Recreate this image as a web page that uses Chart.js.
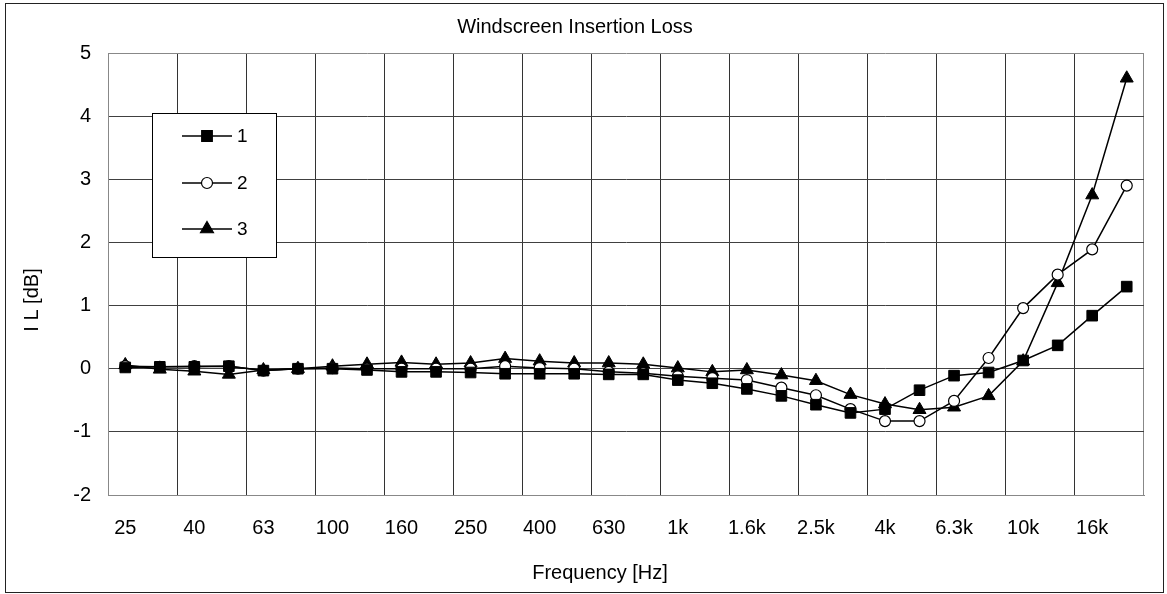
<!DOCTYPE html>
<html>
<head>
<meta charset="utf-8">
<script src="https://cdn.jsdelivr.net/npm/chart.js@4.4.1/dist/chart.umd.min.js"></script>
<style>
  html, body { margin: 0; padding: 0; background: #fff; }
  #wrap { position: relative; width: 1167px; height: 594px; }
</style>
</head>
<body>
<div id="wrap"><canvas id="ilChart" width="1167" height="594"></canvas></div>
<script>
// third-octave bands, 25 Hz .. 20 kHz
const bands = ['25', '31.5', '40', '50', '63', '80', '100', '125', '160', '200',
    '250', '315', '400', '500', '630', '800', '1k', '1.25k', '1.6k', '2k',
    '2.5k', '3.15k', '4k', '5k', '6.3k', '8k', '10k', '12.5k', '16k', '20k'];

const series1 = [0.02, 0.03, 0.03, 0.04, -0.03, 0.00, 0.00, -0.02, -0.05, -0.05,
    -0.06, -0.08, -0.08, -0.08, -0.09, -0.09, -0.18, -0.23, -0.32, -0.43,
    -0.57, -0.70, -0.64, -0.34, -0.11, -0.06, 0.13, 0.37, 0.84, 1.30];
const series2 = [0.04, 0.03, 0.04, 0.04, -0.03, 0.00, 0.01, 0.00, 0.00, 0.00,
    0.00, 0.04, 0.01, 0.00, -0.05, -0.07, -0.12, -0.15, -0.18, -0.30,
    -0.42, -0.64, -0.83, -0.83, -0.51, 0.17, 0.96, 1.49, 1.89, 2.90];
const series3 = [0.06, -0.01, -0.04, -0.09, -0.02, 0.00, 0.04, 0.07, 0.10, 0.07,
    0.09, 0.16, 0.12, 0.09, 0.09, 0.07, 0.01, -0.05, -0.02, -0.10,
    -0.19, -0.41, -0.56, -0.65, -0.61, -0.43, 0.12, 1.36, 2.75, 4.60];

const seriesNames = ['1', '2', '3'];
const yMin = -2, yMax = 5, yStep = 1;
const xTitle = 'Frequency [Hz]';
const yTitle = 'I L [dB]';

const FONT = 'Liberation Sans, Arial, sans-serif';

// legend box inside the plot + axis titles + outer frame
const boxLegend = {
    id: 'boxLegend',
    afterDatasetsDraw(chart) {
        const ctx = chart.ctx;
        ctx.save();
        ctx.fillStyle = '#fff';
        ctx.strokeStyle = '#000';
        ctx.lineWidth = 1;
        ctx.fillRect(152, 113, 124, 144);
        ctx.strokeRect(152.5, 113.5, 124, 144);
        const rows = [136, 183, 229];
        chart.data.datasets.forEach((ds, i) => {
            const y = rows[i];
            ctx.strokeStyle = '#000';
            ctx.lineWidth = 1.5;
            ctx.beginPath();
            ctx.moveTo(182, y);
            ctx.lineTo(232, y);
            ctx.stroke();
            ctx.fillStyle = ds.pointBackgroundColor;
            ctx.strokeStyle = '#000';
            ctx.lineWidth = 1.2;
            Chart.helpers.drawPoint(ctx, {
                pointStyle: ds.pointStyle,
                radius: ds.pointRadius,
                borderWidth: 1.2
            }, 207, y);
            ctx.fillStyle = '#000';
            ctx.font = '19px ' + FONT;
            ctx.textBaseline = 'middle';
            ctx.textAlign = 'left';
            ctx.fillText(ds.label, 237, y + 1);
        });
        ctx.restore();
    },
    afterDraw(chart) {
        const ctx = chart.ctx;
        ctx.save();
        ctx.fillStyle = '#000';
        ctx.font = '20px ' + FONT;
        ctx.textAlign = 'center';
        ctx.textBaseline = 'middle';
        ctx.fillText(xTitle, 600, 573);
        ctx.translate(32, 300);
        ctx.rotate(-Math.PI / 2);
        ctx.fillText(yTitle, 0, 0);
        ctx.restore();

        ctx.save();
        ctx.strokeStyle = '#222';
        ctx.lineWidth = 1;
        ctx.strokeRect(5.5, 3.5, 1158, 589);
        ctx.restore();
    }
};

const ctx = document.getElementById('ilChart').getContext('2d');
new Chart(ctx, {
    type: 'line',
    data: {
        labels: bands,
        datasets: [
            {
                label: seriesNames[0],
                data: series1,
                borderColor: '#000',
                borderWidth: 1.5,
                pointStyle: 'rect',
                pointRadius: 7.5,
                pointBackgroundColor: '#000',
                pointBorderColor: '#000',
                pointBorderWidth: 1
            },
            {
                label: seriesNames[1],
                data: series2,
                borderColor: '#000',
                borderWidth: 1.5,
                pointStyle: 'circle',
                pointRadius: 5.5,
                pointBackgroundColor: '#fff',
                pointBorderColor: '#000',
                pointBorderWidth: 1.2
            },
            {
                label: seriesNames[2],
                data: series3,
                borderColor: '#000',
                borderWidth: 1.5,
                pointStyle: 'triangle',
                pointRadius: 7.5,
                pointBackgroundColor: '#000',
                pointBorderColor: '#000',
                pointBorderWidth: 1
            }
        ]
    },
    options: {
        responsive: false,
        animation: false,
        layout: { padding: { top: 4, left: 6, right: 23, bottom: 4 } },
        plugins: {
            legend: { display: false },
            tooltip: { enabled: false },
            title: {
                display: true,
                text: 'Windscreen Insertion Loss',
                color: '#000',
                font: { family: FONT, size: 20, weight: 'normal' },
                padding: { top: 11, bottom: 14 }
            }
        },
        scales: {
            x: {
                type: 'category',
                offset: true,
                grid: {
                    offset: true,
                    drawTicks: false,
                    lineWidth: 1,
                    color: c => {
                        if (c.index === undefined || c.index === 0) return '#888';
                        return c.index % 2 === 0 ? '#333' : 'rgba(0,0,0,0)';
                    }
                },
                border: { display: true, color: '#888', width: 1 },
                ticks: {
                    autoSkip: false,
                    maxRotation: 0,
                    padding: 21,
                    color: '#000',
                    font: { family: FONT, size: 20 },
                    callback: function (val, index) {
                        return index % 2 === 0 ? this.getLabelForValue(val) : '';
                    }
                },
                afterFit: s => { s.height = 95; }
            },
            y: {
                min: yMin,
                max: yMax,
                grid: {
                    drawTicks: false,
                    color: c => (c.tick && (c.tick.value === yMax || c.tick.value === yMin)) ? '#888' : '#404040'
                },
                border: { display: true, color: '#888', width: 1 },
                ticks: {
                    stepSize: yStep,
                    padding: 17,
                    color: '#000',
                    font: { family: FONT, size: 20 }
                },
                afterFit: s => { s.width = 102; }
            }
        }
    },
    plugins: [boxLegend]
});
</script>
</body>
</html>
